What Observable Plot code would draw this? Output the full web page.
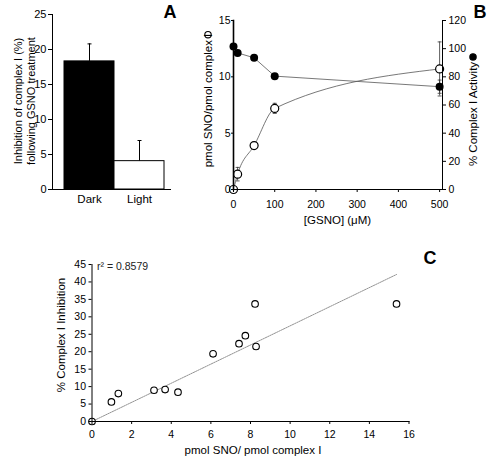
<!DOCTYPE html>
<html><head><meta charset="utf-8">
<script src="https://cdn.jsdelivr.net/npm/d3@7"></script>
<script src="https://cdn.jsdelivr.net/npm/@observablehq/plot@0.6"></script>
<style>
body{margin:0;background:#fff}
#wrap{position:relative;width:488px;height:456px;background:#fff;overflow:hidden}
</style></head><body><div id="wrap"></div>
<script>
// ---------- Panel A ----------
const conditions = ["Dark", "Light"];
const inhibition = [18.3, 4.05];
const inhibitionErr = [2.5, 2.95];
const aTicks = [0, 5, 10, 15, 20, 25];
// ---------- Panel B ----------
const gsno = [0, 10, 50, 100, 500];
const snoPerComplex = [0, 1.36, 3.9, 7.2, 10.7];
const snoErr = [0, 0.6, 0.3, 0.45, 2.4];
const activity = [101.5, 97, 93.5, 80.5, 73];
const activityErr = [0, 0, 0, 0, 4.7];
const bXTicks = [0, 100, 200, 300, 400, 500];
const bLeftTicks = [0, 5, 10, 15];
const bRightTicks = [0, 20, 40, 60, 80, 100, 120];
// ---------- Panel C ----------
const snoC = [0, 0.98, 1.33, 3.13, 3.69, 4.34, 6.11, 7.42, 7.74, 8.23, 8.28, 15.37];
const inhibC = [0, 5.6, 8.0, 8.96, 9.15, 8.4, 19.4, 22.3, 24.6, 33.7, 21.5, 33.7];
const cXTicks = [0, 2, 4, 6, 8, 10, 12, 14, 16];
const cYTicks = [0, 5, 10, 15, 20, 25, 30, 35, 40, 45];
const r2Value = "0.8579";

const FONT = "'Liberation Sans', Arial, sans-serif";
const wrap = document.getElementById("wrap");
const capSymbol = {draw(ctx, size) { const w = Math.sqrt(size / Math.PI); ctx.moveTo(-w, 0); ctx.lineTo(w, 0); }};

function place(svg, left, top) {
  svg.style.position = "absolute";
  svg.style.left = left + "px";
  svg.style.top = top + "px";
  wrap.appendChild(svg);
}

// Panel A
const dataA = conditions.map((c, i) => ({c, v: inhibition[i], e: inhibitionErr[i]}));
const plotA = Plot.plot({
  width: 200, height: 215, marginLeft: 52, marginRight: 30, marginTop: 14, marginBottom: 26,
  style: {fontFamily: FONT, fontSize: "11px", background: "transparent", color: "#000"},
  x: {type: "band", domain: conditions, paddingInner: 0, paddingOuter: 0.168, align: 0.65},
  y: {domain: [0, 25]},
  marks: [
    Plot.barY(dataA, {x: "c", y: "v", filter: d => d.c === "Dark", fill: "black", stroke: "black"}),
    Plot.barY(dataA, {x: "c", y: "v", filter: d => d.c !== "Dark", fill: "white", stroke: "black"}),
    Plot.ruleX(dataA, {x: "c", y1: "v", y2: d => d.v + d.e, stroke: "black"}),
    Plot.dot(dataA, {x: "c", y: d => d.v + d.e, symbol: capSymbol, r: 2, stroke: "black", strokeWidth: 1}),
    Plot.frame({anchor: "left", stroke: "black"}),
    Plot.frame({anchor: "bottom", stroke: "black"}),
    Plot.axisY({ticks: aTicks, tickSize: 4, tickPadding: 2, label: null}),
    Plot.axisX({tickSize: 0, tickPadding: 5, label: null, fontSize: 11.5})
  ]
});
place(plotA, 0, 0);

// Panel B
const rightToLeft = d3.max(bLeftTicks) / d3.max(bRightTicks);
const dataB = gsno.map((g, i) => ({g, s: snoPerComplex[i], se: snoErr[i], a: activity[i] * rightToLeft, ae: activityErr[i] * rightToLeft}));
const plotB = Plot.plot({
  width: 288, height: 215, marginLeft: 33, marginRight: 46, marginTop: 20, marginBottom: 26,
  style: {fontFamily: FONT, fontSize: "10.5px", background: "transparent", color: "#000"},
  x: {domain: [0, 507]},
  y: {domain: [0, 15]},
  marks: [
    Plot.line(dataB, {x: "g", y: "a", stroke: "#555", strokeWidth: 0.8}),
    Plot.line(dataB, {x: "g", y: "s", stroke: "#555", strokeWidth: 0.8, curve: "monotone-x"}),
    Plot.ruleX(dataB.filter(d => d.se > 0), {x: "g", y1: d => d.s - d.se, y2: d => d.s + d.se, stroke: "#333", strokeWidth: 0.8}),
    Plot.dot(dataB.filter(d => d.se > 0), {x: "g", y: d => d.s + d.se, symbol: capSymbol, r: 2, stroke: "#333", strokeWidth: 0.8}),
    Plot.dot(dataB.filter(d => d.se > 0), {x: "g", y: d => d.s - d.se, symbol: capSymbol, r: 2, stroke: "#333", strokeWidth: 0.8}),
    Plot.ruleX(dataB.filter(d => d.ae > 0), {x: "g", y1: d => d.a - d.ae, y2: d => d.a + d.ae, stroke: "#333", strokeWidth: 0.8}),
    Plot.dot(dataB.filter(d => d.ae > 0), {x: "g", y: d => d.a + d.ae, symbol: capSymbol, r: 2, stroke: "#333", strokeWidth: 0.8}),
    Plot.dot(dataB.filter(d => d.ae > 0), {x: "g", y: d => d.a - d.ae, symbol: capSymbol, r: 2, stroke: "#333", strokeWidth: 0.8}),
    Plot.dot(dataB, {x: "g", y: "a", r: 4, fill: "black"}),
    Plot.dot(dataB, {x: "g", y: "s", r: 4, fill: "white", stroke: "black", strokeWidth: 1.2}),
    Plot.frame({anchor: "left", stroke: "black", strokeWidth: 1.6}),
    Plot.frame({anchor: "bottom", stroke: "black"}),
    Plot.frame({anchor: "right", stroke: "black"}),
    Plot.axisY({ticks: bLeftTicks, tickSize: 2, tickPadding: 1, label: null}),
    Plot.axisY({anchor: "right", ticks: bRightTicks.map(v => v * rightToLeft), tickSize: 3, tickPadding: 3,
      tickFormat: d => Math.round(d / rightToLeft), label: null}),
    Plot.axisX({ticks: bXTicks, tickSize: 3, tickPadding: 8, label: null})
  ]
});
place(plotB, 200, 0);

// Panel C
const dataC = snoC.map((x, i) => ({x, y: inhibC[i]}));
const slope = d3.sum(dataC, d => d.x * d.y) / d3.sum(dataC, d => d.x * d.x);
const fit = [0, d3.max(snoC)].map(x => ({x, y: slope * x}));
const plotC = Plot.plot({
  width: 448, height: 216, marginLeft: 51.5, marginRight: 79.5, marginTop: 24, marginBottom: 35,
  style: {fontFamily: FONT, fontSize: "10.5px", background: "transparent", color: "#000"},
  x: {domain: [0, 16]},
  y: {domain: [0, 45]},
  marks: [
    Plot.line(fit, {x: "x", y: "y", stroke: "#777", strokeWidth: 0.8, strokeDasharray: "1.5,1"}),
    Plot.dot(dataC, {x: "x", y: "y", r: 3.3, fill: "white", stroke: "black", strokeWidth: 1.1}),
    Plot.frame({anchor: "left", stroke: "black"}),
    Plot.frame({anchor: "bottom", stroke: "black"}),
    Plot.axisY({ticks: cYTicks, tickSize: 3, tickPadding: 3, label: null}),
    Plot.axisX({ticks: cXTicks, tickSize: 3, tickPadding: 6, label: null})
  ]
});
place(plotC, 40, 240);

// Overlay texts
const ov = d3.select(wrap).append("svg")
  .attr("width", 488).attr("height", 456)
  .style("position", "absolute").style("left", "0px").style("top", "0px")
  .style("font-family", FONT);

function rotLabel(x, y, txt, size, sym) {
  const g = ov.append("g").attr("transform", `translate(${x},${y}) rotate(-90)`);
  const t = g.append("text").attr("font-size", size).attr("dominant-baseline", "central").text(txt);
  const w = t.node().getComputedTextLength();
  const extra = sym === "open" ? 3 : sym ? 10 : 0;
  const total = w + extra;
  t.attr("x", -total / 2);
  if (sym) {
    const cx = sym === "open" ? -total / 2 + w - 1 : -total / 2 + w + 5;
    g.append("circle").attr("cx", cx).attr("cy", 0).attr("r", 3.2)
      .attr("fill", sym === "filled" ? "black" : "none").attr("stroke", "black").attr("stroke-width", 1.1);
  }
}
// Panel A titles
rotLabel(18, 101, "Inhibition of complex I (%)", 11);
rotLabel(31, 101, "following GSNO treatment", 11);
// Panel B titles
rotLabel(208, 99, "pmol SNO/pmol complex I", 11.5, "open");
rotLabel(473, 109, "% Complex I Activity", 11.5, "filled");
ov.append("text").attr("x", 337.5).attr("y", 220).attr("text-anchor", "middle").attr("dominant-baseline", "central")
  .attr("font-size", 11.5).text("[GSNO] (μM)");
// Panel C titles
rotLabel(61, 335, "% Complex I Inhibition", 11.5);
ov.append("text").attr("x", 253).attr("y", 450).attr("text-anchor", "middle").attr("dominant-baseline", "central")
  .attr("font-size", 11.5).text("pmol SNO/ pmol complex I");
ov.append("text").attr("x", 97).attr("y", 266).attr("dominant-baseline", "central")
  .attr("font-size", 10.5).attr("fill", "#222").text("r² = " + r2Value);
// Panel letters
[["A", 170, 12], ["B", 480, 12], ["C", 430, 258]].forEach(([l, x, y]) => {
  ov.append("text").attr("x", x).attr("y", y).attr("text-anchor", "middle").attr("dominant-baseline", "central")
    .attr("font-size", 18).attr("font-weight", "bold").text(l);
});
</script></body></html>
